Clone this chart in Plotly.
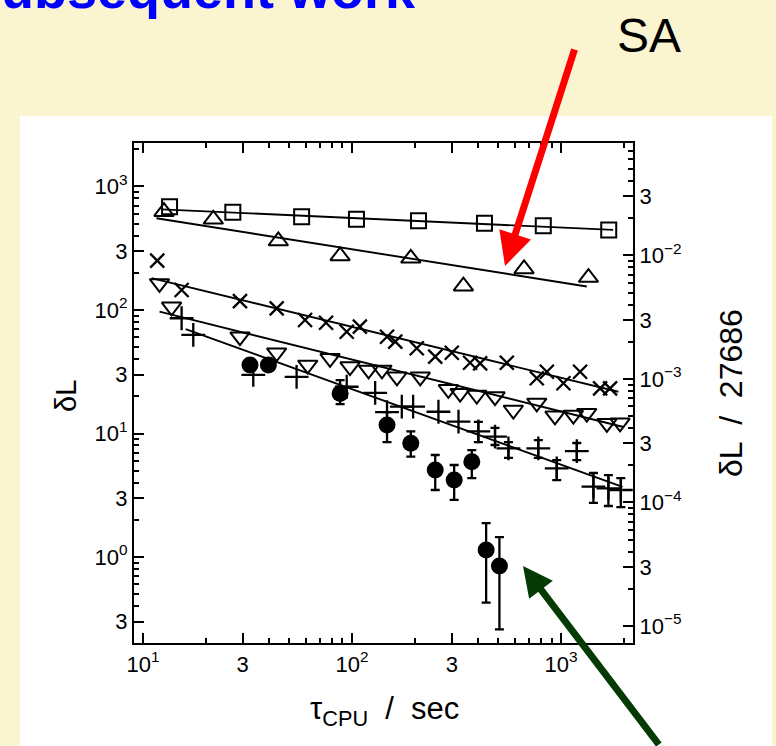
import math
import plotly.graph_objects as go

# ---------------- data ----------------
SCALE = 27686

# open squares
sq_t = [13.4, 26.9, 57.4, 105, 208, 430, 822, 1690]
sq_v = [686, 618, 569, 542, 528, 504, 482, 445]
sq_fit_t = [12.3, 1774]
sq_fit_v = [653, 445]

# open triangles (up)
tu_t = [12.6, 21.7, 44.4, 87.7, 191, 341, 665, 1352]
tu_v = [625, 542, 362, 274, 262, 156, 215, 183]
tu_fit_t = [11.6, 1327]
tu_fit_v = [553, 155]

# crosses (x)
xx_t = [11.7, 15.3, 29.1, 43.6, 59.6, 75.1, 94.3, 109, 147, 161, 204, 250, 300,
        367, 410, 550, 765, 855, 1026, 1233, 1537, 1715]
xx_v = [251, 145, 118, 103, 83.0, 78.9, 66.7, 73.3, 60.8, 55.4, 49.0, 41.9, 45.1,
        37.4, 37.0, 37.4, 28.0, 31.6, 25.5, 31.6, 23.2, 23.2]
xx_fit_t = [11.0, 1879]
xx_fit_v = [181, 21.8]

# open triangles (down)
td_t = [12.0, 13.7, 29.1, 43.6, 61.4, 78.5, 97.8, 120, 139, 164, 212, 289, 329,
        395, 483, 591, 765, 935, 1145, 1327, 1656, 1915]
td_v = [164, 106, 60.8, 45.1, 35.9, 40.6, 34.8, 32.7, 32.7, 28.8, 28.8, 22.8, 21.2,
        20.5, 19.9, 15.5, 17.7, 13.9, 14.1, 14.6, 12.1, 12.2]
td_fit_t = [12.0, 1986]
td_fit_v = [96.9, 11.3]

# plus signs (some with error bars)
pl_t = [15.3, 17.4, 33.7, 54.3, 94.3, 129, 147, 173, 196, 259, 323,
        402, 483, 560, 778, 953, 1189, 1428, 1684, 1931]
pl_v = [85.7, 62.8, 29.8, 28.7, 23.9, 21.3, 14.9, 16.5, 16.5, 15.0, 12.5,
        10.4, 9.42, 7.59, 7.59, 5.22, 7.21, 3.71, 3.60, 3.49]
pl_hi = [None, None, None, None, None, None, None, None, None, None, None,
         12.4, 11.1, 8.53, 8.85, 6.10, 8.38, 4.79, 4.61, 4.36]
pl_lo = [None, None, None, None, None, None, None, None, None, None, None,
         8.53, 8.07, 6.34, 6.34, 4.20, 6.10, 2.74, 2.59, 2.54]
pl_fit_t = [16.0, 1967]
pl_fit_v = [70.0, 3.7]

# filled circles with error bars
dot_t = [32.5, 39.8, 87.7, 147, 191, 250, 308, 374, 438, 507]
dot_v = [35.9, 35.9, 21.1, 11.7, 8.34, 5.06, 4.20, 5.92, 1.14, 0.845]
dot_hi = [39.5, 39.5, 27.1, 14.9, 10.4, 6.70, 5.56, 7.35, 1.88, 1.45]
dot_lo = [32.5, 32.5, 17.3, 8.53, 6.49, 3.49, 2.90, 4.36, 0.427, 0.260]

# tick labels
x_tickvals = [10, 30, 100, 300, 1000]
x_ticktext = ["10<sup>1</sup>", "3", "10<sup>2</sup>", "3", "10<sup>3</sup>"]
y_tickvals = [0.3, 1, 3, 10, 30, 100, 300, 1000]
y_ticktext = ["3", "10<sup>0</sup>", "3", "10<sup>1</sup>", "3", "10<sup>2</sup>", "3", "10<sup>3</sup>"]
y2_tickvals = [1e-5, 3e-5, 1e-4, 3e-4, 1e-3, 3e-3, 1e-2, 3e-2]
y2_ticktext = ["10<sup>−5</sup>", "3", "10<sup>−4</sup>", "3", "10<sup>−3</sup>", "3", "10<sup>−2</sup>", "3"]

# ---------------- layout geometry ----------------
W, H = 776, 746
L, R, T, B = 134, 633, 143, 643
FONT = "Arial, Liberation Sans, Helvetica, sans-serif"
BEIGE = "#FAF5D0"


def px(x):
    return (x - L) / (R - L)


def py(y):
    return (B - y) / (B - T)


def minor_ticks(lo_exp, hi_exp, skip):
    out = []
    for e in range(lo_exp, hi_exp + 1):
        for m in range(2, 10):
            if m not in skip:
                out.append(m * 10 ** e)
    return out


x_minor = minor_ticks(1, 3, {3})
y_minor = [v for v in minor_ticks(-1, 3, {3}) if 0.2 < v < 2300]
y2_minor = [v for v in minor_ticks(-5, -2, {3}) if 7.5e-6 < v < 0.08]

fig = go.Figure()

line_style = dict(color="black", width=1.9)
for ft, fv in [(sq_fit_t, sq_fit_v), (tu_fit_t, tu_fit_v), (xx_fit_t, xx_fit_v),
               (td_fit_t, td_fit_v), (pl_fit_t, pl_fit_v)]:
    fig.add_trace(go.Scatter(x=ft, y=fv, mode="lines", line=line_style,
                             hoverinfo="skip", showlegend=False))

fig.add_trace(go.Scatter(x=sq_t, y=sq_v, mode="markers", showlegend=False,
                         marker=dict(symbol="square-open", size=15, color="black",
                                     line=dict(color="black", width=2))))
fig.add_trace(go.Scatter(x=tu_t, y=tu_v, mode="markers", showlegend=False,
                         marker=dict(symbol="triangle-up-open", size=17, color="black",
                                     line=dict(color="black", width=2))))
fig.add_trace(go.Scatter(x=xx_t, y=xx_v, mode="markers", showlegend=False,
                         marker=dict(symbol="x-thin-open", size=14, color="black",
                                     line=dict(color="black", width=2.3))))
fig.add_trace(go.Scatter(x=td_t, y=td_v, mode="markers", showlegend=False,
                         marker=dict(symbol="triangle-down-open", size=17, color="black",
                                     line=dict(color="black", width=2))))
fig.add_trace(go.Scatter(x=pl_t, y=pl_v, mode="markers", showlegend=False,
                         marker=dict(symbol="cross-thin-open", size=17, color="black",
                                     line=dict(color="black", width=2.3))))

# error bars for plus points
idx = [i for i in range(len(pl_t)) if pl_hi[i] is not None]
fig.add_trace(go.Scatter(
    x=[pl_t[i] for i in idx], y=[pl_v[i] for i in idx], mode="markers",
    showlegend=False, hoverinfo="skip",
    marker=dict(size=1, color="rgba(0,0,0,0)"),
    error_y=dict(type="data", symmetric=False,
                 array=[pl_hi[i] - pl_v[i] for i in idx],
                 arrayminus=[pl_v[i] - pl_lo[i] for i in idx],
                 color="black", thickness=2.3, width=4.5)))

fig.add_trace(go.Scatter(
    x=dot_t, y=dot_v, mode="markers", showlegend=False,
    marker=dict(symbol="circle", size=17, color="black"),
    error_y=dict(type="data", symmetric=False,
                 array=[h - v for h, v in zip(dot_hi, dot_v)],
                 arrayminus=[v - l for v, l in zip(dot_v, dot_lo)],
                 color="black", thickness=2.3, width=4.5)))

# invisible trace to anchor the right axis (dL / 27686)
fig.add_trace(go.Scatter(x=[sq_t[0]], y=[sq_v[0] / SCALE], yaxis="y2", mode="markers",
                         marker=dict(opacity=0), hoverinfo="skip", showlegend=False))

yr = [-0.696, 3.352]
xr = [0.957, 3.344]
shift = math.log10(SCALE)

common = dict(type="log", showgrid=False, zeroline=False, showline=True,
              linecolor="black", linewidth=2.2, ticks="inside", ticklen=10,
              tickwidth=2, tickcolor="black", tickmode="array",
              tickfont=dict(size=22, color="black", family=FONT))
minor_common = dict(tickmode="array", ticks="inside", ticklen=5, tickwidth=1.7,
                    tickcolor="black")

fig.update_layout(
    width=W, height=H,
    margin=dict(l=L, r=W - R, t=T, b=H - B, pad=0),
    paper_bgcolor=BEIGE, plot_bgcolor="white",
    showlegend=False,
    font=dict(family=FONT, color="black"),
    xaxis=dict(**common, range=xr, tickvals=x_tickvals, ticktext=x_ticktext, mirror="ticks",
               minor=dict(**minor_common, tickvals=x_minor)),
    yaxis=dict(**common, range=yr, tickvals=y_tickvals, ticktext=y_ticktext,
               minor=dict(**minor_common, tickvals=y_minor)),
    yaxis2=dict(**common, range=[yr[0] - shift, yr[1] - shift], overlaying="y", side="right",
                tickvals=y2_tickvals, ticktext=y2_ticktext,
                minor=dict(**minor_common, tickvals=y2_minor)),
    shapes=[dict(type="rect", xref="paper", yref="paper", layer="below",
                 x0=px(20), x1=px(772), y0=py(760), y1=py(116),
                 fillcolor="white", line=dict(width=0))],
    annotations=[
        dict(text="Subsequent work", xref="paper", yref="paper", x=px(418), y=py(21),
             xanchor="right", yanchor="bottom", showarrow=False,
             font=dict(size=54, color="#0000FF", family=FONT, weight="bold")),
        dict(text="SA", xref="paper", yref="paper", x=px(649), y=py(35),
             xanchor="center", yanchor="middle", showarrow=False,
             font=dict(size=48, color="black", family=FONT)),
        dict(text="δL", xref="paper", yref="paper", x=px(66), y=py(396),
             xanchor="center", yanchor="middle", showarrow=False, textangle=-90,
             font=dict(size=29, color="black", family=FONT)),
        dict(text="δL  /  27686", xref="paper", yref="paper", x=px(731), y=py(393),
             xanchor="center", yanchor="middle", showarrow=False, textangle=-90,
             font=dict(size=32, color="black", family=FONT)),
        dict(text="τ<sub>CPU</sub>  /  sec", xref="paper", yref="paper", x=px(384), y=py(711),
             xanchor="center", yanchor="middle", showarrow=False,
             font=dict(size=31, color="black", family=FONT)),
        # red arrow
        dict(text="", xref="paper", yref="paper", x=px(505), y=py(266),
             axref="pixel", ayref="pixel", ax=70, ay=-218, showarrow=True,
             arrowhead=2, arrowsize=0.95, arrowwidth=7, arrowcolor="#FF0000", standoff=0),
        # dark green arrow
        dict(text="", xref="paper", yref="paper", x=px(523), y=py(566),
             axref="pixel", ayref="pixel", ax=137, ay=204, showarrow=True,
             arrowhead=2, arrowsize=0.85, arrowwidth=7, arrowcolor="#043A04", standoff=0),
    ],
)

fig.write_html("out.html")
